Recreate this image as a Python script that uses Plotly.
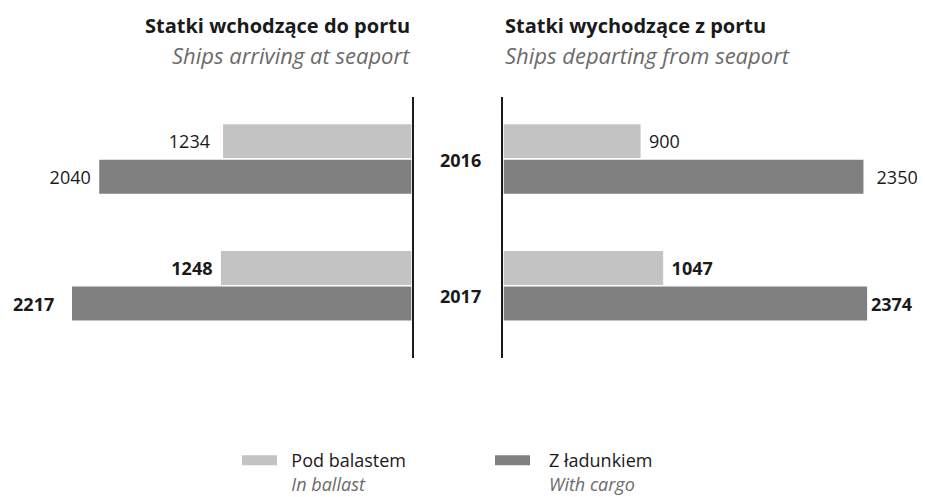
import plotly.graph_objects as go

years = ["2016", "2017"]
arriving_ballast = [1234, 1248]
arriving_cargo = [2040, 2217]
departing_ballast = [900, 1047]
departing_cargo = [2350, 2374]

series_pl = ["Pod balastem", "Z ładunkiem"]
series_en = ["In ballast", "With cargo"]
titles_pl = ["Statki wchodzące do portu", "Statki wychodzące z portu"]
titles_en = ["Ships arriving at seaport", "Ships departing from seaport"]

LIGHT = "#c3c3c3"
DARK = "#808080"
GREY_TXT = "#6b6b6b"
FONT = "Open Sans"
NB = "\u00a0"

W, H = 925, 497
fig = go.Figure()

ypos = list(range(len(years)))

def labels(vals, pads, left):
    out = []
    for i, v in enumerate(vals):
        s = str(v) if i == 0 else f"<b>{v}</b>"  # 2017 labels bold
        out.append(s + NB * pads[i] if left else NB * pads[i] + s)
    return out

def add(vals, color, xa, ya, pads, left):
    fig.add_trace(go.Bar(
        x=vals, y=ypos, orientation="h",
        marker=dict(color=color, line=dict(color="white", width=1.5)),
        text=labels(vals, pads, left), textposition="outside",
        textfont=dict(family=FONT, size=18, color="#1a1a1a"),
        cliponaxis=False, showlegend=False,
        xaxis=xa, yaxis=ya, hoverinfo="skip",
    ))

add(arriving_ballast, LIGHT, "x", "y", [2, 1], True)
add(arriving_cargo, DARK, "x", "y", [1, 3], True)
add(departing_ballast, LIGHT, "x2", "y2", [1, 1], False)
add(departing_cargo, DARK, "x2", "y2", [2, 0], False)

# legend entries (swatches)
leg_pad = [2, 3]
for i, col in enumerate([LIGHT, DARK]):
    p = NB * leg_pad[i]
    fig.add_trace(go.Scatter(
        x=[None], y=[None], mode="lines", line=dict(color=col, width=16),
        name=f"{p}{series_pl[i]}<br>{p}<span style='color:{GREY_TXT}'><i>{series_en[i]}</i></span>",
        showlegend=True, hoverinfo="skip",
    ))

scale = 0.1537  # px per unit
lx1 = 412 / W
rx0 = 503 / W
yd = [1 - 358 / H, 1 - 97 / H]
yrange = [1.57, -0.49]

fig.update_layout(
    width=W, height=H,
    margin=dict(l=0, r=0, t=0, b=0, autoexpand=False),
    paper_bgcolor="white", plot_bgcolor="white",
    barmode="group", bargap=0.44, bargroupgap=0.0,
    font=dict(family=FONT, size=18, color="#1a1a1a"),
    xaxis=dict(domain=[0, lx1], range=[412 / scale, 0], visible=False, fixedrange=True),
    yaxis=dict(domain=yd, range=yrange, anchor="x", side="right", showline=True,
               linecolor="#1a1a1a", linewidth=2, showticklabels=False, showgrid=False,
               zeroline=False, ticks="", fixedrange=True),
    xaxis2=dict(domain=[rx0, 1], range=[0, (W - 503) / scale], visible=False, fixedrange=True),
    yaxis2=dict(domain=yd, range=yrange, anchor="x2", side="left", showline=True,
                linecolor="#1a1a1a", linewidth=2, showticklabels=False, showgrid=False,
                zeroline=False, ticks="", fixedrange=True),
    legend=dict(orientation="h", x=237 / W, xanchor="left", y=1 - 442 / H, yanchor="top",
                font=dict(family=FONT, size=18, color="#1a1a1a"),
                entrywidth=203, entrywidthmode="pixels", itemwidth=35,
                valign="top", traceorder="normal", borderwidth=0),
    showlegend=True,
)

ann = [
    dict(text=f"<b>{titles_pl[0]}</b>", x=lx1, y=25, xanchor="right", size=20),
    dict(text=f"<i>{titles_en[0]}</i>", x=lx1, y=55, xanchor="right", color=GREY_TXT, size=22),
    dict(text=f"<b>{titles_pl[1]}</b>", x=rx0, y=25, xanchor="left", size=20),
    dict(text=f"<i>{titles_en[1]}</i>", x=rx0, y=55, xanchor="left", color=GREY_TXT, size=22),
]
for a in ann:
    fig.add_annotation(text=a["text"], xref="paper", yref="paper", x=a["x"],
                       y=1 - a["y"] / H, xanchor=a["xanchor"], yanchor="middle",
                       showarrow=False,
                       font=dict(family=FONT, size=a["size"], color=a.get("color", "#1a1a1a")))

# year labels between the panels
yshifts = [-1, -10]
for i, yr in enumerate(years):
    fig.add_annotation(text=f"<b>{yr}</b>", xref="paper", yref="y", x=(lx1 + rx0) / 2,
                       y=ypos[i], yshift=yshifts[i], xshift=3, xanchor="center",
                       yanchor="middle", showarrow=False,
                       font=dict(family=FONT, size=18, color="#1a1a1a"))

fig.write_html("out.html", config={"displayModeBar": False},
               post_script="document.body.style.margin='0';")
